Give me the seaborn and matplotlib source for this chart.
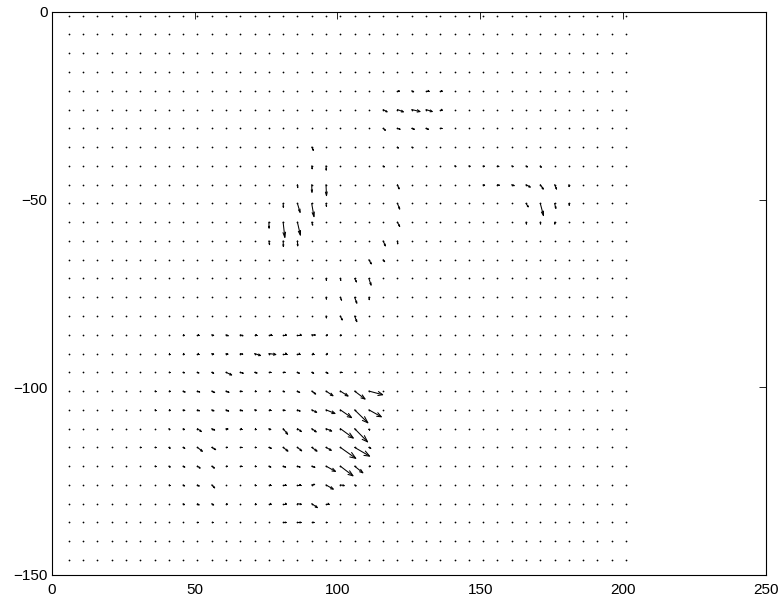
import numpy as np
import pandas as pd
import matplotlib
matplotlib.use("Agg")
import matplotlib.pyplot as plt
from matplotlib.collections import LineCollection
import seaborn as sns

# ---------------- data ----------------
grid_x = [6, 11, 16, 21, 26, 31, 36, 41, 46, 51, 56, 61, 66, 71, 76, 81, 86, 91, 96, 101,
          106, 111, 116, 121, 126, 131, 136, 141, 146, 151, 156, 161, 166, 171, 176, 181,
          186, 191, 196, 201]
grid_y = [-1, -6, -11, -16, -21, -26, -31, -36, -41, -46, -51, -56, -61, -66, -71, -76,
          -81, -86, -91, -96, -101, -106, -111, -116, -121, -126, -131, -136, -141, -146]

# visible (non-negligible) vectors, row by row
row_y = [-21, -26, -31, -36, -41, -46, -51, -56, -61, -66, -71, -76, -81,
         -86, -91, -96, -101, -106, -111, -116, -121, -126, -131, -136]
row_x = [
    [121, 126, 131, 136],
    [116, 121, 126, 131, 136],
    [116, 121, 126, 131, 136],
    [91, 121, 126],
    [91, 96, 116, 141, 146, 151, 156, 161, 166, 171],
    [86, 91, 96, 121, 151, 156, 161, 166, 171, 176, 181],
    [81, 86, 91, 96, 121, 166, 171, 176, 181],
    [76, 81, 86, 91, 121, 166, 171, 176],
    [76, 81, 86, 116, 121],
    [111, 116],
    [96, 101, 106, 111],
    [96, 101, 106, 111],
    [96, 101, 106],
    [46, 51, 56, 61, 66, 71, 76, 81, 86, 91, 96, 101],
    [41, 46, 51, 56, 61, 66, 71, 76, 81, 86, 91, 96],
    [41, 46, 51, 56, 61, 66, 71, 76, 81, 86, 91, 96, 101, 106],
    [36, 41, 46, 51, 56, 61, 66, 71, 76, 81, 86, 91, 96, 101, 106, 111],
    [36, 41, 46, 51, 56, 61, 66, 71, 76, 81, 86, 91, 96, 101, 106, 111],
    [41, 46, 51, 56, 61, 66, 71, 76, 81, 86, 91, 96, 101, 106, 111],
    [31, 36, 41, 46, 51, 56, 61, 66, 71, 76, 81, 86, 91, 96, 101, 106, 111],
    [36, 41, 46, 51, 56, 61, 66, 71, 76, 81, 86, 91, 96, 101, 106, 111],
    [41, 46, 51, 56, 71, 76, 81, 86, 91, 96, 101, 106],
    [46, 51, 56, 61, 71, 76, 81, 86, 91, 96],
    [51, 56, 81, 86, 91, 96],
]
row_u = [
    [0.7, 0.7, 1.05, 0.7],
    [1.4, 2.1, 2.9, 2.2, 0.7],
    [0.8, 0.95, 0.95, 0.88, 0.5],
    [0.6, 0.35, 0.45],
    [0.18, 0.1, 0.45, 0.45, 0.45, 0.45, 0.53, 0.5, 0.53, 0.35],
    [0.1, 0.1, 0.18, 0.6, 0.53, 0.7, 0.88, 1.5, 1.05, 0.7, 0.1],
    [0.1, 0.95, 0.8, 0.18, 0.8, 0.8, 1.12, 0.46, 0.18],
    [0.1, 0.6, 1.05, 0.35, 0.8, 0.18, 0.1, 0.1],
    [0.25, 0.1, 0.1, 0.8, 0.1],
    [0.88, 0.53],
    [0.18, 0.18, 0.7, 0.8],
    [0.18, 0.46, 0.8, 0.18],
    [0.18, 0.7, 0.8],
    [0.35, 0.53, 0.7, 0.8, 0.95, 0.7, 1.05, 1.16, 1.4, 1.3, 0.53, 0.35],
    [0.35, 0.35, 0.46, 0.7, 0.7, 0.88, 2.1, 2.45, 1.23, 0.88, 0.7, 0.53],
    [0.35, 0.46, 0.53, 0.7, 2.0, 1.05, 0.88, 0.7, 0.7, 0.7, 0.7, 0.7, 0.53, 0.25],
    [0.35, 0.46, 0.7, 0.8, 1.05, 1.05, 0.7, 0.53, 0.53, 0.53, 0.8, 1.4, 2.45, 2.73, 3.68, 4.84],
    [0.35, 0.46, 0.6, 0.7, 0.8, 0.95, 0.8, 0.6, 0.6, 0.7, 0.95, 1.75, 3.15, 3.96, 4.66, 4.38],
    [0.35, 0.46, 1.4, 1.05, 0.7, 0.46, 0.46, 0.7, 1.58, 1.4, 1.58, 2.0, 4.56, 4.56, 0.0],
    [0.25, 0.35, 0.46, 0.6, 1.75, 1.4, 0.53, 0.46, 0.46, 0.88, 1.68, 1.5, 1.86, 1.86, 5.43, 5.26, 0.7],
    [0.35, 0.46, 0.6, 0.95, 0.95, 0.46, 0.46, 0.46, 0.7, 0.88, 0.95, 1.12, 3.33, 4.45, 2.91, 0.53],
    [0.25, 0.53, 0.63, 1.05, 0.35, 0.7, 1.05, 1.16, 1.05, 2.56, 1.4, 0.53],
    [0.46, 0.6, 0.7, 0.46, 0.53, 0.8, 1.16, 1.4, 2.0, 1.05],
    [0.35, 0.46, 1.05, 1.3, 0.8, 0.35],
]
row_v = [
    [0.0, -0.27, 0.0, 0.0],
    [-0.61, -0.61, -0.53, -0.53, 0.0],
    [-0.53, -0.27, -0.27, -0.27, 0.0],
    [-0.88, -0.27, -0.19],
    [-0.8, -1.14, -0.27, -0.13, -0.13, -0.13, -0.19, -0.19, -0.27, -0.4],
    [-0.8, -2.05, -2.93, -1.14, -0.19, -0.19, -0.27, -0.67, -1.2, -1.2, -0.53],
    [-1.06, -2.4, -3.54, -0.8, -1.52, -0.93, -3.25, -1.33, -0.53],
    [-1.6, -4.07, -3.46, -0.8, -1.14, -0.53, -0.53, -0.53],
    [-1.0, -1.5, -1.33, -1.33, -0.8],
    [-1.12, -0.53],
    [-0.53, -0.53, -0.93, -1.78],
    [-0.53, -0.8, -1.6, -0.67],
    [-0.53, -1.06, -1.52],
    [0.0, 0.0, -0.19, -0.27, -0.27, 0.0, 0.0, 0.0, 0.0, -0.08, 0.0, 0.0],
    [0.0, 0.0, 0.0, -0.19, -0.19, -0.19, -0.53, -0.27, 0.0, 0.0, 0.0, 0.0],
    [0.0, -0.13, -0.19, -0.27, -0.72, -0.27, -0.19, 0.0, 0.0, -0.27, -0.27, -0.27, 0.0, 0.0],
    [0.0, 0.0, -0.27, -0.27, -0.4, -0.35, -0.13, 0.0, 0.0, -0.19, -0.4, -0.8, -1.25, -1.33, -2.13, -0.98],
    [0.0, 0.0, -0.19, -0.27, -0.27, -0.35, -0.27, -0.13, 0.0, -0.19, -0.35, -0.67, -0.98, -2.08, -3.46, -1.86],
    [-0.27, -0.27, -0.8, -0.4, -0.13, 0.0, 0.0, -0.27, -1.52, -0.8, -0.88, -0.67, -2.53, -3.54, -0.27],
    [0.0, 0.0, -0.27, -0.27, -1.06, -0.61, 0.0, 0.0, 0.0, -0.27, -1.01, -0.93, -1.01, -0.8, -2.93, -2.34, -0.27],
    [0.0, -0.27, -0.27, -0.53, -0.53, 0.0, 0.0, 0.0, -0.27, -0.27, -0.27, -0.32, -1.41, -2.58, -1.78, 0.0],
    [0.0, -0.27, -0.32, -0.8, 0.0, 0.0, 0.0, 0.0, 0.13, -1.14, -0.19, -0.27],
    [-0.27, -0.35, -0.35, 0.0, 0.0, 0.0, 0.0, -0.19, -1.06, 0.0],
    [0.0, 0.0, 0.0, 0.0, 0.0, 0.0],
]

# ---------------- build field table ----------------
gx, gy = np.meshgrid(grid_x, grid_y)
field = pd.DataFrame({"x": gx.ravel().astype(float), "y": gy.ravel().astype(float)})
field["u"] = 0.0
field["v"] = 0.0
for y, xs, us, vs in zip(row_y, row_x, row_u, row_v):
    for x, u, v in zip(xs, us, vs):
        m = (field["x"] == x) & (field["y"] == y)
        field.loc[m, "u"] = u
        field.loc[m, "v"] = v

# MATLAB-style quiver geometry (shaft + open V head, head = 0.33 of length)
alpha, beta = 0.33, 0.33
arrows = field[(field["u"] != 0) | (field["v"] != 0)]
segs = []
for x, y, u, v in arrows[["x", "y", "u", "v"]].itertuples(index=False):
    tx, ty = x + u, y + v
    segs.append([(x, y), (tx, ty)])
    segs.append([(tx - alpha * (u + beta * v), ty - alpha * (v - beta * u)),
                 (tx, ty),
                 (tx - alpha * (u - beta * v), ty - alpha * (v + beta * u))])

# ---------------- plot ----------------
sns.set_theme(style="white")
plt.rcParams["font.family"] = ["Liberation Sans", "DejaVu Sans"]

fig = plt.figure(figsize=(7.83, 6.02), dpi=100)
fig.patch.set_facecolor("white")
ax = fig.add_axes([0.066, 0.0449, 0.9123, 0.9352])
ax.set_facecolor("white")

# grid-point dots (zero-length vectors)
sns.scatterplot(data=field, x="x", y="y", ax=ax, s=1.6, color="black",
                linewidth=0, marker="o", legend=False)

ax.add_collection(LineCollection(segs, colors="black", linewidths=0.75,
                                 capstyle="round", joinstyle="miter"))

ax.set_xlim(0, 250)
ax.set_ylim(-150, 0)
ax.set_xticks([0, 50, 100, 150, 200, 250])
ax.set_yticks([-150, -100, -50, 0])
ax.set_xlabel("")
ax.set_ylabel("")
ax.tick_params(direction="in", length=5, width=0.6, top=True, right=True,
               labelsize=11, colors="black")
ax.tick_params(axis="x", pad=6)
ax.tick_params(axis="y", pad=3)
for s in ax.spines.values():
    s.set_visible(True)
    s.set_color("black")
    s.set_linewidth(0.8)
ax.grid(False)

fig.savefig("out.png", dpi=100, facecolor="white")
